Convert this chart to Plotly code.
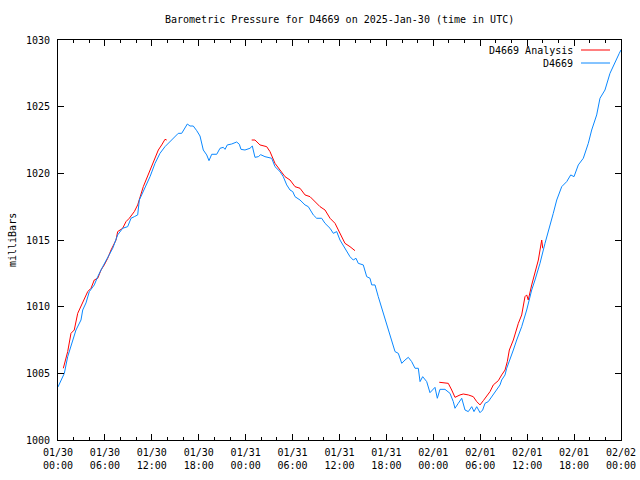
import plotly.graph_objects as go

# Observed station pressure (hours since 2025-01-30 00:00 UTC, mbar)
obs_hours = [0, 0.81, 1.24, 1.88, 2.30, 2.94, 3.16, 3.58, 4.00, 4.64, 5.08, 5.72, 6.56, 7.00, 7.63, 8.27, 8.91, 9.34, 9.76, 10.19,
             10.40, 11.13, 11.77, 12.41, 13.04, 13.68, 14.32, 14.75, 15.38, 15.82, 16.24, 16.54, 16.88, 17.30, 17.74, 18.16, 18.58, 19.02, 19.31, 19.66,
             20.30, 20.72, 21.14, 21.36, 21.65, 22.21, 22.85, 23.19, 23.40, 23.91, 24.55, 24.85, 25.19, 25.62, 25.92, 26.47, 27.33, 27.75, 28.39, 28.81,
             29.25, 29.67, 30.02, 30.31, 30.95, 31.59, 32.01, 32.65, 33.08, 33.72, 34.15, 34.79, 35.21, 35.64, 36.06, 36.70, 37.34, 37.76, 38.11, 38.40,
             39.04, 39.48, 39.90, 40.12, 40.54, 40.96, 41.40, 41.82, 42.24, 42.68, 43.10, 43.52, 43.96, 44.38, 44.80, 45.23, 45.66, 46.08, 46.30, 46.64,
             47.15, 47.57, 48.21, 48.51, 48.85, 49.49, 50.13, 50.55, 50.77, 51.19, 51.63, 52.05, 52.47, 52.91, 53.20, 53.55, 53.97, 54.31, 54.61, 55.03,
             55.46, 56.10, 56.53, 56.74, 57.17, 57.38, 57.80, 58.23, 58.66, 59.30, 59.94, 60.58, 61.00, 61.64, 62.28, 62.92, 63.34, 63.78, 64.42, 65.06,
             65.57, 65.99, 66.54, 67.18, 67.82, 68.25, 68.89, 69.31, 69.95, 70.59, 71.23, 71.78, 72.0]
obs_mbar = [1003.98, 1005.0, 1006.25, 1007.5, 1008.25, 1009.0, 1009.75, 1010.28, 1011.12, 1011.63, 1012.25, 1013.0, 1013.88, 1014.38, 1015.38, 1015.88, 1016.0, 1016.63, 1016.75, 1016.88,
            1018.0, 1018.88, 1019.75, 1020.75, 1021.5, 1022.0, 1022.38, 1022.63, 1023.0, 1023.0, 1023.38, 1023.7, 1023.55, 1023.55, 1023.2, 1022.8, 1021.75, 1021.38, 1020.95, 1021.43,
            1021.43, 1021.88, 1021.95, 1021.8, 1022.13, 1022.2, 1022.35, 1022.18, 1021.8, 1021.75, 1021.88, 1022.05, 1021.2, 1021.25, 1021.4, 1021.25, 1021.13, 1020.5, 1020.13, 1019.75,
            1019.13, 1018.75, 1018.63, 1018.25, 1018.0, 1017.63, 1017.5, 1016.88, 1016.63, 1016.63, 1016.25, 1015.88, 1015.5, 1015.63, 1015.0, 1014.38, 1013.75, 1013.5, 1013.63, 1013.25,
            1013.13, 1012.25, 1012.13, 1011.63, 1011.63, 1010.75, 1009.88, 1009.0, 1008.25, 1007.5, 1006.63, 1006.5, 1005.75, 1006.0, 1006.2, 1005.88, 1005.38, 1005.38, 1004.38, 1004.75,
            1004.38, 1003.55, 1003.95, 1003.13, 1003.8, 1003.8, 1003.5, 1002.88, 1002.38, 1002.75, 1003.13, 1002.25, 1002.13, 1002.5, 1002.13, 1002.5, 1002.05, 1002.25, 1002.75, 1002.88,
            1003.25, 1003.75, 1004.13, 1004.5, 1004.88, 1005.38, 1006.0, 1006.75, 1007.5, 1008.5, 1009.75, 1011.25, 1012.0, 1013.25, 1014.75, 1016.0, 1017.0, 1018.0, 1019.0, 1019.38,
            1019.88, 1019.75, 1020.63, 1021.13, 1022.25, 1023.25, 1024.38, 1025.63, 1026.25, 1027.5, 1028.38, 1029.0, 1029.25]

# Analysis segments (None separates runs)
ana_hours = [0.68, 1.24, 1.66, 2.08, 2.52, 2.81, 3.36, 3.80, 4.22, 4.64, 5.08, 5.50, 5.92, 6.36, 6.78, 7.42, 7.63, 8.27, 8.70, 9.12,
             9.76, 10.19, 10.91, 11.55, 12.19, 12.83, 13.26, 13.68, 13.90, None,
             24.77, 25.19, 25.83, 26.69, 27.11, 27.75, 28.39, 29.03, 29.67, 30.31, 30.95, 31.59, 32.23, 32.87, 33.51, 34.15, 34.79, 35.43, 35.85, 36.28,
             36.70, 37.34, 37.98, None,
             48.76, 49.91, 50.35, 50.77, 51.41, 51.83, 52.47, 53.11, 53.55, 53.97, 54.39, 54.82, 55.25, 55.67, 56.31, 56.74, 57.17, 57.46, 57.72, 58.23,
             58.87, 59.30, 59.72, 59.94, 60.14, 60.58, 61.00, 61.43, 61.86, 61.99]
ana_mbar = [1005.38, 1006.63, 1008.0, 1008.25, 1009.5, 1009.88, 1010.63, 1011.13, 1011.38, 1012.0, 1012.13, 1012.75, 1013.13, 1013.63, 1014.25, 1015.0, 1015.63, 1015.88, 1016.38, 1016.63,
            1017.13, 1017.63, 1019.0, 1019.88, 1020.75, 1021.75, 1022.13, 1022.55, 1022.5, None,
            1022.5, 1022.5, 1022.13, 1022.0, 1021.63, 1020.75, 1020.25, 1019.75, 1019.5, 1019.0, 1018.88, 1018.38, 1018.25, 1017.88, 1017.5, 1017.25, 1016.63, 1016.25, 1015.75, 1015.25,
            1014.75, 1014.5, 1014.2, None,
            1004.33, 1004.25, 1003.75, 1003.2, 1003.38, 1003.45, 1003.38, 1003.25, 1002.88, 1002.63, 1002.95, 1003.3, 1003.63, 1004.13, 1004.45, 1004.88, 1005.25, 1005.88, 1006.75, 1007.5,
            1008.75, 1009.38, 1010.75, 1010.88, 1010.5, 1011.63, 1012.63, 1013.5, 1015.0, 1014.38]

x_tick_vals = [0, 6, 12, 18, 24, 30, 36, 42, 48, 54, 60, 66, 72]
x_tick_text = ["01/30<br>00:00", "01/30<br>06:00", "01/30<br>12:00", "01/30<br>18:00",
               "01/31<br>00:00", "01/31<br>06:00", "01/31<br>12:00", "01/31<br>18:00",
               "02/01<br>00:00", "02/01<br>06:00", "02/01<br>12:00", "02/01<br>18:00",
               "02/02<br>00:00"]
y_tick_vals = [1000, 1005, 1010, 1015, 1020, 1025, 1030]

RED = "#ff0000"
BLUE = "#0a88ff"
FONT = "DejaVu Sans Mono"

fig = go.Figure()
fig.add_trace(go.Scatter(x=ana_hours, y=ana_mbar, mode="lines", name="D4669 Analysis",
                         line=dict(color=RED, width=1), connectgaps=False, showlegend=False, hoverinfo="skip"))
fig.add_trace(go.Scatter(x=obs_hours, y=obs_mbar, mode="lines", name="D4669",
                         line=dict(color=BLUE, width=1), showlegend=False, hoverinfo="skip"))
# empty trace to anchor the mirrored tick axes (top/right)
fig.add_trace(go.Scatter(x=[], y=[], xaxis="x2", yaxis="y2", showlegend=False, hoverinfo="skip"))

W, H = 640, 480
L, R, T, B = 58, 19, 40, 40
pw, ph = W - L - R, H - T - B

def px(xp):
    return (xp - L) / pw

def py(yp):
    return (H - B - yp) / ph

tick_common = dict(ticks="inside", ticklen=6, tickcolor="black", tickwidth=1,
                   showgrid=False, zeroline=False, automargin=False)

fig.update_layout(
    width=W, height=H,
    margin=dict(l=L, r=R, t=T, b=B, pad=0, autoexpand=False),
    paper_bgcolor="white", plot_bgcolor="white",
    font=dict(family=FONT, size=10, color="black"),
    showlegend=False,
    xaxis=dict(range=[0, 72], tickvals=x_tick_vals, ticktext=x_tick_text,
               showline=True, linecolor="black", linewidth=1, mirror=True,
               ticklabelstandoff=3,
               minor=dict(tick0=0, dtick=2, ticks="inside", ticklen=3, tickcolor="black", showgrid=False),
               **tick_common),
    xaxis2=dict(range=[0, 72], tickvals=x_tick_vals, overlaying="x", side="top", anchor="y",
                showticklabels=False, showline=False,
                minor=dict(tick0=0, dtick=2, ticks="inside", ticklen=3, tickcolor="black", showgrid=False),
                **tick_common),
    yaxis=dict(range=[1000, 1030], tickvals=y_tick_vals,
               showline=True, linecolor="black", linewidth=1, mirror=True,
               ticklabelstandoff=5, **tick_common),
    yaxis2=dict(range=[1000, 1030], tickvals=y_tick_vals, overlaying="y", side="right", anchor="x",
                showticklabels=False, showline=False, **tick_common),
    annotations=[
        dict(text="Barometric Pressure for D4669 on 2025-Jan-30 (time in UTC)", xref="paper", yref="paper",
             x=0.5, y=py(19), xanchor="center", yanchor="middle", showarrow=False, font=dict(size=10)),
        dict(text="milliBars", xref="paper", yref="paper", x=px(12), y=0.5, textangle=-90,
             xanchor="center", yanchor="middle", showarrow=False, font=dict(size=10)),
        dict(text="D4669 Analysis", xref="paper", yref="paper", x=px(575), y=py(50),
             xanchor="right", yanchor="middle", showarrow=False, font=dict(size=10)),
        dict(text="D4669", xref="paper", yref="paper", x=px(575), y=py(63),
             xanchor="right", yanchor="middle", showarrow=False, font=dict(size=10)),
    ],
    shapes=[
        dict(type="line", xref="paper", yref="paper", x0=px(581), x1=px(610), y0=py(50), y1=py(50),
             line=dict(color=RED, width=1)),
        dict(type="line", xref="paper", yref="paper", x0=px(581), x1=px(610), y0=py(63), y1=py(63),
             line=dict(color=BLUE, width=1)),
    ],
)

fig.write_html("out.html", config={"displayModeBar": False},
               post_script="document.body.style.margin='0';document.body.style.overflow='hidden';")
